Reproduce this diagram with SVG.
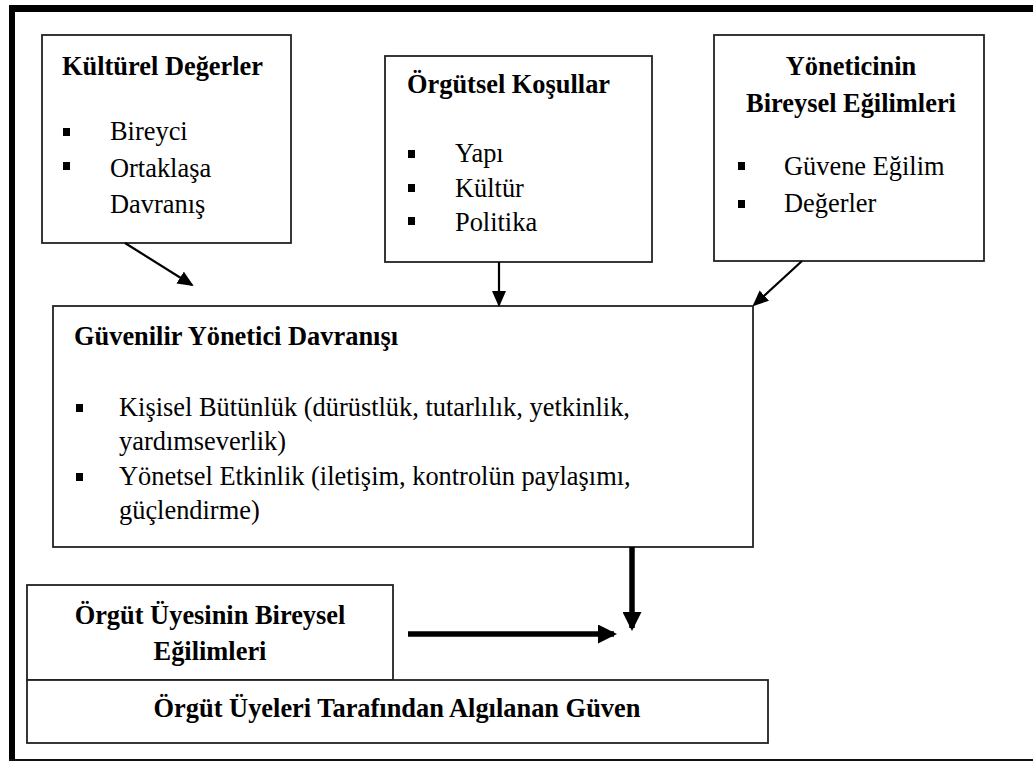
<svg xmlns="http://www.w3.org/2000/svg" width="1033" height="762" viewBox="0 0 1033 762">
<defs>
<style>
.box{fill:#fff;stroke:#222;stroke-width:1.8}
.t{font-size:26.4px;fill:#000}
.b{font-weight:bold}
.c{text-anchor:middle}
.bul{fill:#000}
.thin{stroke:#000;stroke-width:2.2;fill:none}
.thick{stroke:#000;stroke-width:5.5;fill:none}
</style>
<marker id="ah" markerUnits="userSpaceOnUse" markerWidth="16" markerHeight="14" refX="14" refY="7" orient="auto">
<path d="M0,0 L16,7 L0,14 z" fill="#000"/>
</marker>
<marker id="ahb" markerUnits="userSpaceOnUse" markerWidth="19" markerHeight="19" refX="16" refY="9.5" orient="auto">
<path d="M0,0 L19,9.5 L0,19 z" fill="#000"/>
</marker>
</defs>
<rect width="1033" height="762" fill="#fff"/>
<g id="frame">
<line x1="9" y1="8.5" x2="1033" y2="8.5" stroke="#000" stroke-width="7"/>
<line x1="12" y1="5" x2="12" y2="761" stroke="#000" stroke-width="6"/>
<line x1="9" y1="760" x2="1033" y2="760" stroke="#111" stroke-width="2"/>
</g>
<g font-family="Liberation Serif, Times New Roman, DejaVu Serif, serif">
<g id="kulturel">
<rect class="box" x="42" y="35" width="249" height="208"/>
<text class="t b" x="62" y="75">Kültürel Değerler</text>
<rect class="bul" x="63" y="128" width="7" height="8"/>
<rect class="bul" x="63" y="162" width="7" height="8"/>
<text class="t" x="110" y="140">Bireyci</text>
<text class="t" x="110" y="177">Ortaklaşa</text>
<text class="t" x="110" y="213">Davranış</text>
</g>
<g id="orgutsel">
<rect class="box" x="385" y="56" width="267" height="206"/>
<text class="t b" x="407" y="93">Örgütsel Koşullar</text>
<rect class="bul" x="408" y="150" width="7" height="8"/>
<rect class="bul" x="408" y="184" width="7" height="8"/>
<rect class="bul" x="408" y="217" width="7" height="8"/>
<text class="t" x="455" y="162">Yapı</text>
<text class="t" x="455" y="197">Kültür</text>
<text class="t" x="455" y="231">Politika</text>
</g>
<g id="yonetici">
<rect class="box" x="714" y="35" width="270" height="226"/>
<text class="t b c" x="851" y="75">Yöneticinin</text>
<text class="t b c" x="851" y="112">Bireysel Eğilimleri</text>
<rect class="bul" x="738" y="162" width="7" height="8"/>
<rect class="bul" x="738" y="200" width="7" height="8"/>
<text class="t" x="784" y="175">Güvene Eğilim</text>
<text class="t" x="784" y="212">Değerler</text>
</g>
<g id="guvenilir">
<rect class="box" x="53" y="306" width="700" height="241"/>
<text class="t b" x="74" y="345">Güvenilir Yönetici Davranışı</text>
<rect class="bul" x="76" y="404" width="7" height="8"/>
<rect class="bul" x="76" y="473" width="7" height="8"/>
<text class="t" x="119" y="416">Kişisel Bütünlük (dürüstlük, tutarlılık, yetkinlik,</text>
<text class="t" x="119" y="450">yardımseverlik)</text>
<text class="t" x="119" y="485">Yönetsel Etkinlik (iletişim, kontrolün paylaşımı,</text>
<text class="t" x="119" y="519">güçlendirme)</text>
</g>
<g id="uye">
<rect class="box" x="27" y="585" width="366" height="95"/>
<text class="t b c" x="210" y="624">Örgüt Üyesinin Bireysel</text>
<text class="t b c" x="210" y="660">Eğilimleri</text>
</g>
<g id="algilanan">
<rect class="box" x="27" y="680" width="741" height="63"/>
<text class="t b c" x="397" y="717">Örgüt Üyeleri Tarafından Algılanan Güven</text>
</g>
</g>
<g id="connectors">
<line class="thin" x1="125" y1="243" x2="192" y2="285" marker-end="url(#ah)"/>
<line class="thin" x1="499" y1="262" x2="499" y2="305" marker-end="url(#ah)"/>
<line class="thin" x1="802" y1="261" x2="754" y2="305" marker-end="url(#ah)"/>
<line class="thick" x1="632" y1="547" x2="632" y2="628" marker-end="url(#ahb)"/>
<line class="thick" x1="408" y1="634" x2="614" y2="634" marker-end="url(#ahb)"/>
</g>
</svg>
